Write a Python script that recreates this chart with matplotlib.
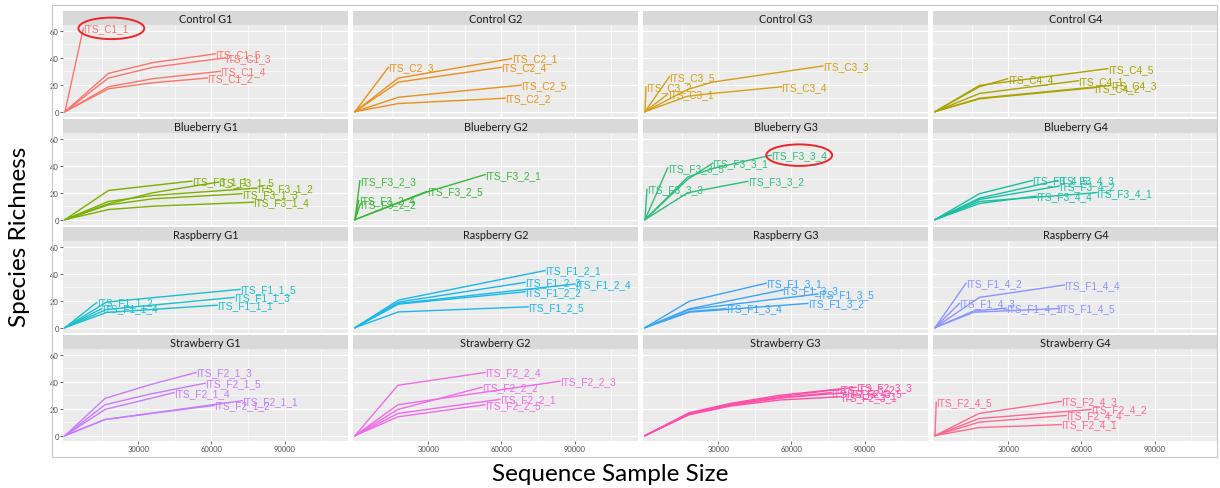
import matplotlib
matplotlib.use("Agg")
import matplotlib.pyplot as plt
from matplotlib.patches import Ellipse, Rectangle

# rarefaction curves per facet: sample -> (sequences sampled, observed species)
control_g1 = {
    "ITS_C1_1": ([0, 7500], [0, 62]),
    "ITS_C1_5": ([0, 17800, 36000, 61600], [0, 28.5, 36.5, 43]),
    "ITS_C1_3": ([0, 17800, 36000, 65700], [0, 25, 33, 40]),
    "ITS_C1_4": ([0, 17800, 36000, 63600], [0, 18.5, 24.5, 30]),
    "ITS_C1_2": ([0, 17800, 36000, 58300], [0, 17, 21.5, 25]),
}
control_g2 = {
    "ITS_C2_3": ([0, 13700], [0, 33]),
    "ITS_C2_1": ([0, 17800, 64200], [0, 25, 39.5]),
    "ITS_C2_4": ([0, 17800, 60100], [0, 22, 33]),
    "ITS_C2_5": ([0, 17800, 68100], [0, 10.7, 19.7]),
    "ITS_C2_2": ([0, 17800, 61500], [0, 6, 10]),
}
control_g3 = {
    "ITS_C3_2": ([0, 400], [0, 18.5]),
    "ITS_C3_5": ([0, 10000], [0, 26]),
    "ITS_C3_1": ([0, 9300], [0, 13]),
    "ITS_C3_3": ([0, 17500, 27700, 72900], [0, 16.5, 22, 34]),
    "ITS_C3_4": ([0, 17500, 26400, 56000], [0, 11.5, 13.3, 18.5]),
}
control_g4 = {
    "ITS_C4_4": ([0, 18200, 29800], [0, 18.5, 24.5]),
    "ITS_C4_5": ([0, 18200, 70800], [0, 19.5, 32]),
    "ITS_C4_1": ([0, 18200, 58800], [0, 13.5, 23]),
    "ITS_C4_3": ([0, 18200, 72100], [0, 10, 19.5]),
    "ITS_C4_2": ([0, 18200, 65300], [0, 9.5, 17.8]),
}
blueberry_g1 = {
    "ITS_F3_1_1": ([0, 17800, 52000], [0, 21.7, 28.7]),
    "ITS_F3_1_5": ([0, 17800, 36000, 62900], [0, 11.8, 20, 28]),
    "ITS_F3_1_2": ([0, 17800, 36000, 78700], [0, 13.5, 18, 23.5]),
    "ITS_F3_1_3": ([0, 17800, 36000, 72500], [0, 11, 15.5, 19.3]),
    "ITS_F3_1_4": ([0, 17800, 36000, 77300], [0, 7.5, 10, 13]),
}
blueberry_g2 = {
    "ITS_F3_2_3": ([0, 2000], [0, 29]),
    "ITS_F3_2_1": ([0, 29400, 53300], [0, 20.5, 33.5]),
    "ITS_F3_2_5": ([0, 29400], [0, 21]),
    "ITS_F3_2_4": ([0, 1500], [0, 14.2]),
    "ITS_F3_2_2": ([0, 2200], [0, 11.7]),
}
blueberry_g3 = {
    "ITS_F3_3_4": ([0, 17500, 27700, 51700], [0, 31.7, 38, 48]),
    "ITS_F3_3_1": ([0, 17500, 27700], [0, 30, 42]),
    "ITS_F3_3_5": ([0, 9300], [0, 38.5]),
    "ITS_F3_3_2": ([0, 17500, 42100], [0, 20, 28.5]),
    "ITS_F3_3_3": ([0, 800], [0, 22.5]),
}
blueberry_g4 = {
    "ITS_F3_4_5": ([0, 18200, 40000], [0, 19.3, 29.2]),
    "ITS_F3_4_3": ([0, 18200, 50300], [0, 16, 29.2]),
    "ITS_F3_4_2": ([0, 18200, 51000], [0, 15, 25]),
    "ITS_F3_4_4": ([0, 18200, 41400], [0, 12, 17.5]),
    "ITS_F3_4_1": ([0, 18200, 66000], [0, 13.5, 20]),
}
raspberry_g1 = {
    "ITS_F1_1_5": ([0, 17000, 71800], [0, 19, 28.5]),
    "ITS_F1_1_2": ([0, 13000], [0, 18.7]),
    "ITS_F1_1_4": ([0, 15100], [0, 14.2]),
    "ITS_F1_1_3": ([0, 17000, 69300], [0, 13.5, 22.5]),
    "ITS_F1_1_1": ([0, 17000, 62300], [0, 11.3, 16.7]),
}
raspberry_g2 = {
    "ITS_F1_2_1": ([0, 17800, 77900], [0, 20.5, 42.5]),
    "ITS_F1_2_3": ([0, 17800, 69700], [0, 19, 33.7]),
    "ITS_F1_2_4": ([0, 17800, 90200], [0, 18, 32.5]),
    "ITS_F1_2_2": ([0, 17800, 69700], [0, 17.5, 26.7]),
    "ITS_F1_2_5": ([0, 17800, 71000], [0, 11.7, 15.5]),
}
raspberry_g3 = {
    "ITS_F1_3_1": ([0, 18200, 49600], [0, 19.7, 33]),
    "ITS_F1_3_3": ([0, 18200, 56400], [0, 14, 28]),
    "ITS_F1_3_5": ([0, 18200, 70800], [0, 13.5, 25]),
    "ITS_F1_3_2": ([0, 18200, 66700], [0, 11.5, 18]),
    "ITS_F1_3_4": ([0, 18200, 33200], [0, 12, 14.2]),
}
raspberry_g4 = {
    "ITS_F1_4_2": ([0, 12700], [0, 33]),
    "ITS_F1_4_4": ([0, 18200, 53000], [0, 22.5, 31.7]),
    "ITS_F1_4_3": ([0, 10000], [0, 18]),
    "ITS_F1_4_1": ([0, 16000, 29100], [0, 12.5, 14.5]),
    "ITS_F1_4_5": ([0, 16000, 51000], [0, 11.5, 14.2]),
}
strawberry_g1 = {
    "ITS_F2_1_3": ([0, 16400, 35000, 53700], [0, 27.7, 38, 47]),
    "ITS_F2_1_5": ([0, 16400, 35000, 57400], [0, 23, 31, 39]),
    "ITS_F2_1_4": ([0, 16400, 44700], [0, 19.5, 32]),
    "ITS_F2_1_1": ([0, 16400, 72600], [0, 12, 26]),
    "ITS_F2_1_2": ([0, 16400, 61100], [0, 12, 22.5]),
}
strawberry_g2 = {
    "ITS_F2_2_4": ([0, 17600, 53300], [0, 37.5, 47]),
    "ITS_F2_2_3": ([0, 17600, 84000], [0, 23, 40.5]),
    "ITS_F2_2_2": ([0, 17600, 52000], [0, 19.5, 36]),
    "ITS_F2_2_1": ([0, 17600, 59400], [0, 16.5, 27]),
    "ITS_F2_2_5": ([0, 17600, 53300], [0, 14, 23]),
}
strawberry_g3 = {
    "ITS_F2_3_3": ([0, 18000, 35000, 55000, 86500], [0, 17, 24, 30, 36]),
    "ITS_F2_3_2": ([0, 18000, 35000, 55000, 79500], [0, 16.5, 23.5, 29, 34.5]),
    "ITS_F2_3_5": ([0, 18000, 35000, 55000, 82400], [0, 16, 23, 28, 32]),
    "ITS_F2_3_4": ([0, 18000, 35000, 55000, 76300], [0, 16, 22.5, 28, 32]),
    "ITS_F2_3_1": ([0, 18000, 35000, 55000, 80400], [0, 15.5, 22, 26.5, 29]),
}
strawberry_g4 = {
    "ITS_F2_4_5": ([0, 500], [0, 24.7]),
    "ITS_F2_4_3": ([0, 18000, 51700], [0, 16.5, 25.5]),
    "ITS_F2_4_2": ([0, 18000, 64000], [0, 12.7, 19.5]),
    "ITS_F2_4_4": ([0, 18000, 53700], [0, 10, 15]),
    "ITS_F2_4_1": ([0, 18000, 51700], [0, 6, 8.2]),
}

panels = [control_g1, control_g2, control_g3, control_g4,
          blueberry_g1, blueberry_g2, blueberry_g3, blueberry_g4,
          raspberry_g1, raspberry_g2, raspberry_g3, raspberry_g4,
          strawberry_g1, strawberry_g2, strawberry_g3, strawberry_g4]
titles = ["Control G1", "Control G2", "Control G3", "Control G4",
          "Blueberry G1", "Blueberry G2", "Blueberry G3", "Blueberry G4",
          "Raspberry G1", "Raspberry G2", "Raspberry G3", "Raspberry G4",
          "Strawberry G1", "Strawberry G2", "Strawberry G3", "Strawberry G4"]
colors = ["#F8766D", "#E8901E", "#D4A017", "#ABA300",
          "#7CAE00", "#39B639", "#2EBD7A", "#17BFA3",
          "#19C0CC", "#1AB8E6", "#3AA5F5", "#8C94FF",
          "#C77CFF", "#EE6CE6", "#FF4FA8", "#FF6A8F"]

# samples highlighted with a red ring: (panel index, sample)
highlighted = [(0, "ITS_C1_1"), (6, "ITS_F3_3_4")]

W, H = 1220, 489
fig = plt.figure(figsize=(W / 100, H / 100), dpi=100)

# thin frame round the whole grid
fig.patches.append(Rectangle((52 / W, 1 - 458 / H), 1165 / W, 452 / H,
                             transform=fig.transFigure, fill=False,
                             edgecolor="#C8C8C8", linewidth=0.8))

xlim = (-820, 116000)
ylim = (-4, 64.5)

for i, (data, title, col) in enumerate(zip(panels, titles, colors)):
    r, c = divmod(i, 4)
    left = 63 + 290 * c
    top = 12 + 108 * r
    # facet strip
    sax = fig.add_axes([left / W, 1 - (top + 14) / H, 285 / W, 14 / H])
    sax.set_facecolor("#D9D9D9")
    sax.set_xticks([])
    sax.set_yticks([])
    for s in sax.spines.values():
        s.set_visible(False)
    sax.text(0.5, 0.45, title, ha="center", va="center", fontsize=7.8,
             color="#1A1A1A", family="Lato", transform=sax.transAxes)

    ax = fig.add_axes([left / W, 1 - (top + 106) / H, 285 / W, 92 / H])
    ax.set_facecolor("#EBEBEB")
    for s in ax.spines.values():
        s.set_visible(False)
    ax.set_xlim(*xlim)
    ax.set_ylim(*ylim)
    ax.set_xticks([30000, 60000, 90000])
    ax.set_xticks([15000, 45000, 75000, 105000], minor=True)
    ax.set_yticks([0, 20, 40, 60])
    ax.set_yticks([10, 30, 50], minor=True)
    ax.grid(which="major", color="white", linewidth=0.9)
    ax.grid(which="minor", color="white", linewidth=0.45)
    ax.set_axisbelow(True)
    ax.tick_params(which="minor", length=0)
    ax.tick_params(which="major", length=2, width=0.5, color="#333333",
                   labelsize=5.5, labelcolor="#4D4D4D", pad=1)
    if c != 0:
        ax.tick_params(axis="y", length=0, labelleft=False)
    if r != 3:
        ax.tick_params(axis="x", length=0, labelbottom=False)
    for lab in ax.get_xticklabels() + ax.get_yticklabels():
        lab.set_family("Lato")

    for name, (xs, ys) in data.items():
        ax.plot(xs, ys, color=col, linewidth=1.0, solid_joinstyle="round")
        ax.text(xs[-1], ys[-1], name, ha="left", va="center", fontsize=7.3,
                color=col, family="Liberation Sans")
        if (i, name) in highlighted:
            ex = xs[-1] + 11500
            ey = ys[-1]
            ax.add_patch(Ellipse((ex, ey), 27000, 16, fill=False,
                                 edgecolor="#E8262B", linewidth=1.4,
                                 clip_on=False, zorder=5))

fig.text(610 / W, 1 - 475 / H, "Sequence Sample Size", ha="center",
         va="center", fontsize=17.5, family="Lato", color="black")
fig.text(20 / W, 1 - 237 / H, "Species Richness", ha="center",
         va="center", rotation=90, fontsize=17.5, family="Lato", color="black")

fig.savefig("out.png", dpi=100)
